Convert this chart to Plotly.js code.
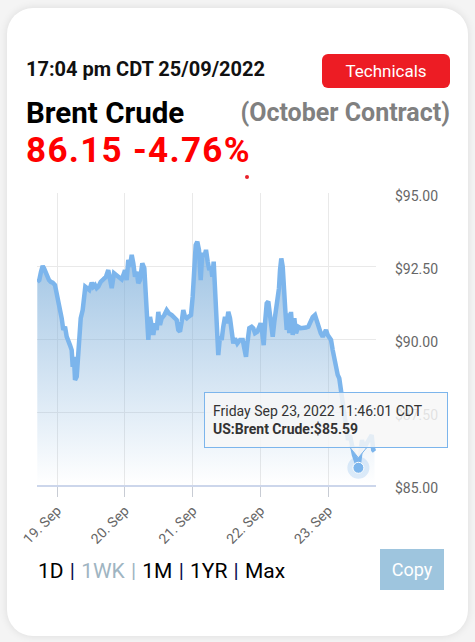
<!DOCTYPE html>
<html>
<head>
<meta charset="utf-8">
<script src="https://cdn.plot.ly/plotly-3.0.1.min.js"></script>
<style>
  html, body { margin:0; padding:0; width:475px; height:642px; background:#f4f4f4; overflow:hidden; font-family: Roboto, "Noto Sans", Arial, sans-serif; }
  #card { position:absolute; left:7px; top:8px; width:461px; height:628px; background:#fff; border-radius:26px; box-shadow:0 0 8px rgba(0,0,0,0.10); }
  .t { position:absolute; white-space:nowrap; line-height:1; }
  #stamp { left:26px; top:59px; font-size:20px; font-weight:700; color:#111; }
  #tech { position:absolute; left:322px; top:54px; width:128px; height:34px; background:#ed1c24; border-radius:6px; color:#fff; font-size:17px; display:flex; align-items:center; justify-content:center; line-height:1; }
  #name { left:26px; top:99px; font-size:29.5px; font-weight:700; color:#000; }
  #contract { right:25px; top:100px; font-size:25px; font-weight:700; color:#808080; }
  #price { left:26px; top:133px; font-size:35px; font-weight:700; color:#ff0000; letter-spacing:1.3px; }
  #dot { position:absolute; left:245px; top:175px; width:4px; height:4px; border-radius:2px; background:#e8202a; }
  #nav { left:38px; top:561px; font-size:21px; color:#000; word-spacing:1px; }
  #nav .sep { color:#0a0a50; }
  #nav .off { color:#9fb5c2; }
  #copy { position:absolute; left:380px; top:549px; width:64px; height:41px; background:#9ec5de; color:#fff; font-size:18px; display:flex; align-items:center; justify-content:center; line-height:1; }
  #chart { position:absolute; left:0; top:0; width:475px; height:642px; }
</style>
</head>
<body>
<div id="card"></div>
<div class="t" id="stamp">17:04 pm CDT 25/09/2022</div>
<div id="tech">Technicals</div>
<div class="t" id="name">Brent Crude</div>
<div class="t" id="contract">(October Contract)</div>
<div class="t" id="price">86.15 -4.76%</div>
<div id="dot"></div>
<div id="chart"></div>
<div class="t" id="nav">1D <span class="sep">|</span> <span class="off">1WK |</span> 1M <span class="sep">|</span> 1YR <span class="sep">|</span> Max</div>
<div id="copy">Copy</div>
<script>
const seriesName = 'US:Brent Crude';
const tooltipDate = 'Friday Sep 23, 2022 11:46:01 CDT';
const hoverTime = '2022-09-23 10:46:01';

const times = [
'2022-09-18 17:01','2022-09-18 17:44','2022-09-18 18:20','2022-09-18 18:56','2022-09-18 19:24','2022-09-18 20:06','2022-09-18 20:34','2022-09-18 21:10','2022-09-18 21:46','2022-09-18 22:29','2022-09-18 23:17','2022-09-18 23:54',
'2022-09-19 00:28','2022-09-19 01:04','2022-09-19 01:40','2022-09-19 02:14','2022-09-19 02:50','2022-09-19 03:26','2022-09-19 04:00','2022-09-19 04:36','2022-09-19 05:12','2022-09-19 05:34','2022-09-19 06:01','2022-09-19 06:23','2022-09-19 06:59','2022-09-19 07:33','2022-09-19 07:54','2022-09-19 08:24','2022-09-19 09:06','2022-09-19 09:34','2022-09-19 10:02','2022-09-19 10:44','2022-09-19 11:27','2022-09-19 12:18','2022-09-19 12:52','2022-09-19 13:28','2022-09-19 14:04','2022-09-19 14:38','2022-09-19 15:29','2022-09-19 16:24','2022-09-19 17:21','2022-09-19 18:10','2022-09-19 18:47','2022-09-19 19:23','2022-09-19 20:12','2022-09-19 21:09','2022-09-19 22:04','2022-09-19 22:55','2022-09-19 23:44',
'2022-09-20 00:05','2022-09-20 00:41','2022-09-20 01:15','2022-09-20 01:52','2022-09-20 02:28','2022-09-20 03:02','2022-09-20 03:38','2022-09-20 04:14','2022-09-20 04:48','2022-09-20 05:24','2022-09-20 06:13','2022-09-20 06:56','2022-09-20 07:25','2022-09-20 07:53','2022-09-20 08:21','2022-09-20 08:57','2022-09-20 09:33','2022-09-20 10:07','2022-09-20 10:43','2022-09-20 11:19','2022-09-20 11:53','2022-09-20 12:29','2022-09-20 13:05','2022-09-20 14:01','2022-09-20 14:52','2022-09-20 15:40','2022-09-20 16:38','2022-09-20 17:33','2022-09-20 18:24','2022-09-20 18:58','2022-09-20 19:34','2022-09-20 20:10','2022-09-20 20:44','2022-09-20 21:21','2022-09-20 21:57','2022-09-20 22:31','2022-09-20 23:28',
'2022-09-21 00:04','2022-09-21 00:32','2022-09-21 01:08','2022-09-21 01:42','2022-09-21 02:18','2022-09-21 02:54','2022-09-21 03:28','2022-09-21 04:11','2022-09-21 04:47','2022-09-21 05:23','2022-09-21 05:57','2022-09-21 06:33','2022-09-21 07:01','2022-09-21 07:30','2022-09-21 07:58','2022-09-21 08:34','2022-09-21 09:08','2022-09-21 09:44','2022-09-21 10:20','2022-09-21 10:54','2022-09-21 11:31','2022-09-21 12:07','2022-09-21 12:41','2022-09-21 13:17','2022-09-21 13:53','2022-09-21 14:27','2022-09-21 15:03','2022-09-21 15:52','2022-09-21 16:50','2022-09-21 17:47','2022-09-21 18:21','2022-09-21 18:57','2022-09-21 19:25','2022-09-21 20:07','2022-09-21 20:58','2022-09-21 21:32','2022-09-21 22:08','2022-09-21 22:57','2022-09-21 23:40',
'2022-09-22 00:09','2022-09-22 00:43','2022-09-22 01:13','2022-09-22 01:47','2022-09-22 02:17','2022-09-22 02:51','2022-09-22 03:27','2022-09-22 04:03','2022-09-22 04:25','2022-09-22 04:59','2022-09-22 05:35','2022-09-22 06:11','2022-09-22 06:38','2022-09-22 07:00','2022-09-22 07:27','2022-09-22 07:57','2022-09-22 08:25','2022-09-22 08:52','2022-09-22 09:22','2022-09-22 09:50','2022-09-22 10:17','2022-09-22 10:53','2022-09-22 11:30','2022-09-22 12:04','2022-09-22 12:40','2022-09-22 13:29','2022-09-22 14:20','2022-09-22 15:15','2022-09-22 16:12','2022-09-22 17:01','2022-09-22 17:52','2022-09-22 18:35','2022-09-22 19:23','2022-09-22 20:00','2022-09-22 20:34','2022-09-22 21:25','2022-09-22 22:07','2022-09-22 22:41','2022-09-22 23:17','2022-09-22 23:53',
'2022-09-23 00:28','2022-09-23 01:04','2022-09-23 01:40','2022-09-23 02:14','2022-09-23 02:50','2022-09-23 03:26','2022-09-23 04:00','2022-09-23 04:30','2022-09-23 05:04','2022-09-23 05:40','2022-09-23 06:22','2022-09-23 07:05','2022-09-23 07:47','2022-09-23 08:30','2022-09-23 09:12','2022-09-23 10:46:01','2022-09-23 11:20','2022-09-23 12:02','2022-09-23 12:45','2022-09-23 13:42','2022-09-23 14:31','2022-09-23 15:28','2022-09-23 16:02','2022-09-23 16:28'
];

const prices = [
91.96,92.02,92.30,92.50,92.42,92.25,92.19,92.02,91.96,91.93,91.85,91.58,
91.28,91.05,90.71,90.31,90.42,90.08,89.97,89.79,89.62,89.05,89.39,88.60,88.71,89.45,90.42,90.71,90.99,91.51,91.79,91.74,91.68,91.93,91.79,91.85,91.74,91.79,91.96,92.04,92.13,92.36,92.02,91.74,92.25,92.19,92.13,92.04,92.25,
92.36,92.02,92.71,92.48,92.88,92.59,92.13,92.30,91.91,92.02,92.59,92.42,91.68,90.99,89.97,90.76,90.31,90.14,90.54,90.31,90.93,90.48,90.71,90.82,90.99,90.88,90.82,90.71,90.65,90.31,90.25,90.59,90.99,90.76,90.71,90.76,90.82,
91.45,92.59,93.22,93.33,93.05,92.02,92.94,92.82,93.05,92.65,92.36,92.48,92.13,92.65,91.45,90.31,89.45,90.08,89.97,90.42,90.76,90.54,90.93,90.71,90.08,89.85,90.02,89.85,89.97,89.97,89.68,89.39,89.85,90.37,90.42,90.37,90.20,90.25,90.42,
90.54,90.20,89.79,90.65,91.22,91.28,90.76,90.54,90.08,90.59,91.05,91.39,91.74,92.36,92.76,92.48,91.45,90.99,90.31,90.88,90.20,90.93,90.14,90.71,90.20,90.42,90.37,90.37,90.39,90.42,90.65,90.75,90.82,90.59,90.42,90.20,90.08,90.25,90.31,90.14,
90.08,89.97,89.62,89.28,89.00,88.77,88.65,88.31,88.02,87.57,87.05,86.54,86.71,86.27,86.03,85.59,86.03,86.54,86.27,86.44,86.54,86.71,86.20,86.15
];

const yTicks = [85, 87.5, 90, 92.5, 95];
const yTickText = ['$85.00', '$87.50', '$90.00', '$92.50', '$95.00'];
const xRange = ['2022-09-18 16:55', '2022-09-23 17:00'];
const yRange = [85, 95];

const hi = times.indexOf(hoverTime);
const hx = times[hi], hy = prices[hi];
const lineColor = '#7cb5ec';

const traces = [
  {
    type: 'scatter', mode: 'lines', x: times, y: prices,
    line: { color: lineColor, width: 4.5 },
    fill: 'tozeroy',
    fillgradient: {
      type: 'vertical', start: yRange[0], stop: Math.max(...prices),
      colorscale: [[0, 'rgba(118,170,216,0)'], [1, 'rgba(118,170,216,0.72)']]
    },
    hoverinfo: 'skip'
  },
  {
    type: 'scatter', mode: 'markers', x: [hx], y: [hy],
    marker: { size: 22, color: 'rgba(124,181,236,0.25)', line: { width: 0 } },
    hoverinfo: 'skip'
  },
  {
    type: 'scatter', mode: 'markers', x: [hx], y: [hy],
    marker: { size: 11, color: lineColor, line: { width: 1, color: '#ffffff' } },
    hoverinfo: 'skip'
  }
];

const layout = {
  width: 475, height: 642,
  margin: { l: 37, r: 99, t: 193, b: 157, pad: 0 },
  paper_bgcolor: 'rgba(0,0,0,0)', plot_bgcolor: 'rgba(0,0,0,0)',
  showlegend: false,
  font: { family: 'Roboto, Arial, sans-serif', color: '#666666', size: 13 },
  xaxis: {
    type: 'date', range: xRange, dtick: 86400000, tick0: '2022-09-19',
    tickformat: '%d. %b', tickangle: -45,
    showgrid: true, gridcolor: '#e9e9e9', gridwidth: 1,
    showline: true, linecolor: '#ccd6eb', linewidth: 2,
    ticks: 'outside', ticklen: 10, tickcolor: '#c8ccd4', tickwidth: 1,
    tickfont: { size: 14, color: '#666666' },
    zeroline: false, fixedrange: true, automargin: false
  },
  yaxis: {
    range: yRange, tickmode: 'array', tickvals: yTicks, ticktext: yTickText,
    side: 'right', showgrid: true, gridcolor: '#e9e9e9', gridwidth: 1,
    zeroline: false, showline: false, ticks: '',
    ticklabelstandoff: 18, ticklabelshift: 3,
    tickfont: { size: 14, color: '#666666' },
    fixedrange: true, automargin: false
  },
  shapes: [
    {
      type: 'path', xref: 'x', yref: 'y', xsizemode: 'pixel', ysizemode: 'pixel',
      xanchor: hx, yanchor: hy,
      path: 'M -9 21 L 0 10 L 9 21 Z',
      fillcolor: 'rgba(247,247,247,0.95)', line: { color: lineColor, width: 1 },
      layer: 'above'
    }
  ],
  annotations: [
    {
      x: hx, y: hy, xref: 'x', yref: 'y', showarrow: false,
      xanchor: 'center', yanchor: 'bottom', xshift: -32, yshift: 20,
      text: tooltipDate + '<br><b>' + seriesName + ':$' + hy.toFixed(2) + '</b>',
      align: 'left', width: 226, height: 38,
      bgcolor: 'rgba(247,247,247,0.85)', bordercolor: lineColor, borderwidth: 1, borderpad: 8,
      font: { size: 14, color: '#333333', family: 'Roboto, Arial, sans-serif' }
    }
  ]
};

Plotly.newPlot('chart', traces, layout, { staticPlot: true, displayModeBar: false });
</script>
</body>
</html>
